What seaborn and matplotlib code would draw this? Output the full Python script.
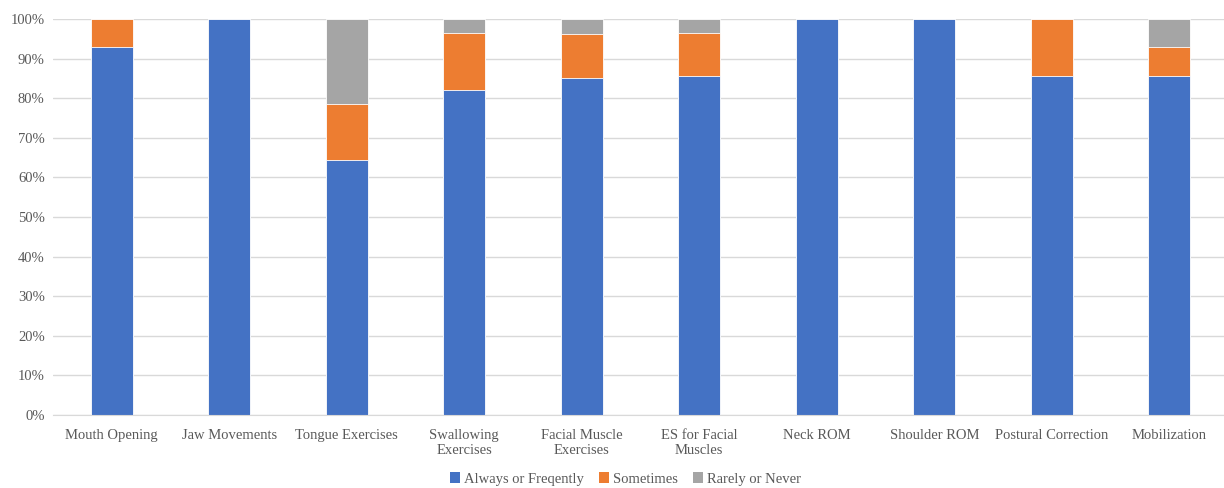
import numpy as np
import pandas as pd
import seaborn as sns
import matplotlib.pyplot as plt
from matplotlib.patches import Patch
from matplotlib.ticker import PercentFormatter

# Reference values (percent of respondents)
categories = ['Mouth Opening', 'Jaw Movements', 'Tongue Exercises', 'Swallowing\nExercises',
              'Facial Muscle\nExercises', 'ES for Facial\nMuscles', 'Neck ROM', 'Shoulder ROM',
              'Postural Correction', 'Mobilization']
always = [92.9, 100.0, 64.3, 82.1, 85.2, 85.7, 100.0, 100.0, 85.7, 85.7]
sometimes = [7.1, 0.0, 14.3, 14.3, 11.1, 10.7, 0.0, 0.0, 14.3, 7.1]
rarely = [0.0, 0.0, 21.4, 3.6, 3.7, 3.6, 0.0, 0.0, 0.0, 7.2]
series_names = ['Always or Freqently', 'Sometimes', 'Rarely or Never']
colors = ['#4472C4', '#ED7D31', '#A5A5A5']

df = pd.DataFrame({'Item': categories, 'a': always, 's': sometimes, 'r': rarely})
df['top_a'] = df['a']
df['top_s'] = df['a'] + df['s']
df['top_r'] = df['a'] + df['s'] + df['r']

sns.set_style('white')
plt.rcParams['font.family'] = ['Liberation Serif', 'DejaVu Serif']

fig = plt.figure(figsize=(12.24, 4.88), dpi=100)
ax = fig.add_axes([0.0433, 0.1496, 0.96, 0.8115])

# draw cumulative tops back to front so each layer shows its own segment
for col, c in zip(['top_r', 'top_s', 'top_a'], colors[::-1]):
    sns.barplot(data=df, x='Item', y=col, color=c, width=0.355, ax=ax,
                edgecolor='white', linewidth=0.6, saturation=1)

ax.set_ylim(0, 100)
ax.set_xlim(-0.5, 9.5)
ax.set_yticks(np.arange(0, 101, 10))
ax.yaxis.set_major_formatter(PercentFormatter(decimals=0))
ax.yaxis.grid(True, color='#d9d9d9', linewidth=1)
ax.set_axisbelow(True)
ax.set_xlabel('')
ax.set_ylabel('')
for s in ['top', 'right', 'left']:
    ax.spines[s].set_visible(False)
ax.spines['bottom'].set_color('#d9d9d9')
ax.tick_params(axis='both', length=0, labelsize=10.5, colors='#595959', pad=6)
ax.tick_params(axis='x', pad=10)
for lab in ax.get_xticklabels():
    lab.set_linespacing(1.25)

handles = [Patch(facecolor=c, edgecolor='none') for c in colors]
leg = fig.legend(handles, series_names, loc='lower center', ncol=3, frameon=False,
                 bbox_to_anchor=(0.511, -0.022), fontsize=10.5, handlelength=0.7, handleheight=0.7,
                 handletextpad=0.3, columnspacing=1.0)
for t in leg.get_texts():
    t.set_color('#595959')

fig.savefig('out.png', dpi=100)
